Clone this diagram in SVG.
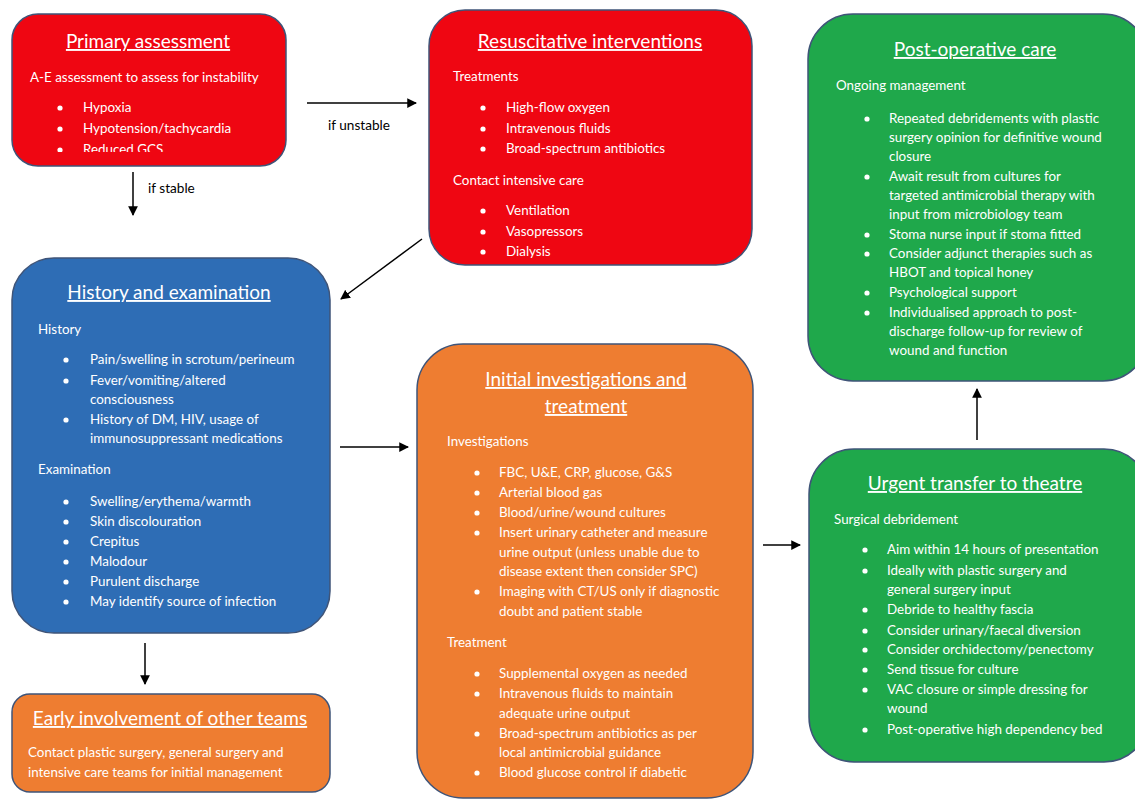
<svg xmlns="http://www.w3.org/2000/svg" width="1135" height="800" viewBox="0 0 1135 800">
<style>
.box{stroke:#3f5478;stroke-width:1.5}
.red{fill:#ef0612}.green{fill:#1fa84b}.orange{fill:#ee7d31}.blue{fill:#2e6db5}
text{font-family:Lato,"Liberation Sans",sans-serif;fill:#ffffff;font-size:13.4px}
.t{font-size:19px;text-anchor:middle;text-decoration:underline}
.lbl{fill:#000000;font-size:13.6px}
.dot{fill:#ffffff}
.conn line{stroke:#000000;stroke-width:1.5;marker-end:url(#ah)}
</style>
<defs>
<marker id="ah" viewBox="0 0 10 10" refX="9" refY="5" markerWidth="6.5" markerHeight="6.5" orient="auto" markerUnits="strokeWidth">
<path d="M0,0 L10,5 L0,10 z" fill="#000000"/>
</marker>
<clipPath id="clipP"><rect x="12" y="14" width="274" height="138"/></clipPath>
</defs>
<rect width="1135" height="800" fill="#ffffff"/>

<g id="primary">
<rect class="box red" x="12" y="14" width="274" height="152" rx="26"/>
<text class="t" x="148" y="48">Primary assessment</text>
<text x="30" y="82">A-E assessment to assess for instability</text>
<circle class="dot" cx="60" cy="108" r="2.6"/><text x="83" y="112">Hypoxia</text>
<circle class="dot" cx="60" cy="129" r="2.6"/><text x="83" y="133">Hypotension/tachycardia</text>
<g clip-path="url(#clipP)"><circle class="dot" cx="60" cy="150" r="2.6"/><text x="83" y="154">Reduced GCS</text></g>
</g>

<g id="resus">
<rect class="box red" x="429" y="10" width="323" height="255" rx="36"/>
<text class="t" x="590" y="48">Resuscitative interventions</text>
<text x="453" y="81">Treatments</text>
<circle class="dot" cx="483" cy="108" r="2.6"/><text x="506" y="112">High-flow oxygen</text>
<circle class="dot" cx="483" cy="129" r="2.6"/><text x="506" y="133">Intravenous fluids</text>
<circle class="dot" cx="483" cy="149" r="2.6"/><text x="506" y="153">Broad-spectrum antibiotics</text>
<text x="453" y="185">Contact intensive care</text>
<circle class="dot" cx="483" cy="211" r="2.6"/><text x="506" y="215">Ventilation</text>
<circle class="dot" cx="483" cy="232" r="2.6"/><text x="506" y="236">Vasopressors</text>
<circle class="dot" cx="483" cy="252" r="2.6"/><text x="506" y="256">Dialysis</text>
</g>

<g id="postop">
<rect class="box green" x="808" y="14" width="340" height="367" rx="45"/>
<text class="t" x="975" y="56">Post-operative care</text>
<text x="836" y="90">Ongoing management</text>
<circle class="dot" cx="867" cy="119" r="2.6"/><text x="889" y="123">Repeated debridements with plastic</text>
<text x="889" y="142">surgery opinion for definitive wound</text>
<text x="889" y="161">closure</text>
<circle class="dot" cx="867" cy="177" r="2.6"/><text x="889" y="181">Await result from cultures for</text>
<text x="889" y="200">targeted antimicrobial therapy with</text>
<text x="889" y="219">input from microbiology team</text>
<circle class="dot" cx="867" cy="235" r="2.6"/><text x="889" y="239">Stoma nurse input if stoma fitted</text>
<circle class="dot" cx="867" cy="254" r="2.6"/><text x="889" y="258">Consider adjunct therapies such as</text>
<text x="889" y="277">HBOT and topical honey</text>
<circle class="dot" cx="867" cy="293" r="2.6"/><text x="889" y="297">Psychological support</text>
<circle class="dot" cx="867" cy="313" r="2.6"/><text x="889" y="317">Individualised approach to post-</text>
<text x="889" y="336">discharge follow-up for review of</text>
<text x="889" y="355">wound and function</text>
</g>

<g id="history">
<rect class="box blue" x="12" y="258" width="318" height="375" rx="42"/>
<text class="t" x="169" y="299">History and examination</text>
<text x="38" y="334">History</text>
<circle class="dot" cx="66" cy="360" r="2.6"/><text x="90" y="364">Pain/swelling in scrotum/perineum</text>
<circle class="dot" cx="66" cy="381" r="2.6"/><text x="90" y="385">Fever/vomiting/altered</text>
<text x="90" y="404">consciousness</text>
<circle class="dot" cx="66" cy="420" r="2.6"/><text x="90" y="424">History of DM, HIV, usage of</text>
<text x="90" y="443">immunosuppressant medications</text>
<text x="38" y="474">Examination</text>
<circle class="dot" cx="66" cy="502" r="2.6"/><text x="90" y="506">Swelling/erythema/warmth</text>
<circle class="dot" cx="66" cy="522" r="2.6"/><text x="90" y="526">Skin discolouration</text>
<circle class="dot" cx="66" cy="542" r="2.6"/><text x="90" y="546">Crepitus</text>
<circle class="dot" cx="66" cy="562" r="2.6"/><text x="90" y="566">Malodour</text>
<circle class="dot" cx="66" cy="582" r="2.6"/><text x="90" y="586">Purulent discharge</text>
<circle class="dot" cx="66" cy="602" r="2.6"/><text x="90" y="606">May identify source of infection</text>
</g>

<g id="initial">
<rect class="box orange" x="417" y="344" width="336" height="454" rx="46"/>
<text class="t" x="586" y="386">Initial investigations and</text>
<text class="t" x="586" y="413">treatment</text>
<text x="447" y="446">Investigations</text>
<circle class="dot" cx="477" cy="473" r="2.6"/><text x="499" y="477">FBC, U&amp;E, CRP, glucose, G&amp;S</text>
<circle class="dot" cx="477" cy="493" r="2.6"/><text x="499" y="497">Arterial blood gas</text>
<circle class="dot" cx="477" cy="513" r="2.6"/><text x="499" y="517">Blood/urine/wound cultures</text>
<circle class="dot" cx="477" cy="533" r="2.6"/><text x="499" y="537">Insert urinary catheter and measure</text>
<text x="499" y="557">urine output (unless unable due to</text>
<text x="499" y="576">disease extent then consider SPC)</text>
<circle class="dot" cx="477" cy="592" r="2.6"/><text x="499" y="596">Imaging with CT/US only if diagnostic</text>
<text x="499" y="616">doubt and patient stable</text>
<text x="447" y="647">Treatment</text>
<circle class="dot" cx="477" cy="674" r="2.6"/><text x="499" y="678">Supplemental oxygen as needed</text>
<circle class="dot" cx="477" cy="694" r="2.6"/><text x="499" y="698">Intravenous fluids to maintain</text>
<text x="499" y="718">adequate urine output</text>
<circle class="dot" cx="477" cy="734" r="2.6"/><text x="499" y="738">Broad-spectrum antibiotics as per</text>
<text x="499" y="757">local antimicrobial guidance</text>
<circle class="dot" cx="477" cy="773" r="2.6"/><text x="499" y="777">Blood glucose control if diabetic</text>
</g>

<g id="urgent">
<rect class="box green" x="809" y="449" width="340" height="313" rx="45"/>
<text class="t" x="975" y="490">Urgent transfer to theatre</text>
<text x="834" y="524">Surgical debridement</text>
<circle class="dot" cx="865" cy="550" r="2.6"/><text x="887" y="554">Aim within 14 hours of presentation</text>
<circle class="dot" cx="865" cy="571" r="2.6"/><text x="887" y="575">Ideally with plastic surgery and</text>
<text x="887" y="594">general surgery input</text>
<circle class="dot" cx="865" cy="610" r="2.6"/><text x="887" y="614">Debride to healthy fascia</text>
<circle class="dot" cx="865" cy="631" r="2.6"/><text x="887" y="635">Consider urinary/faecal diversion</text>
<circle class="dot" cx="865" cy="650" r="2.6"/><text x="887" y="654">Consider orchidectomy/penectomy</text>
<circle class="dot" cx="865" cy="670" r="2.6"/><text x="887" y="674">Send tissue for culture</text>
<circle class="dot" cx="865" cy="690" r="2.6"/><text x="887" y="694">VAC closure or simple dressing for</text>
<text x="887" y="713">wound</text>
<circle class="dot" cx="865" cy="730" r="2.6"/><text x="887" y="734">Post-operative high dependency bed</text>
</g>

<g id="early">
<rect class="box orange" x="12" y="694" width="318" height="98" rx="18"/>
<text class="t" x="170" y="725">Early involvement of other teams</text>
<text x="28" y="757">Contact plastic surgery, general surgery and</text>
<text x="28" y="777">intensive care teams for initial management</text>
</g>

<g id="connectors" class="conn">
<line x1="307" y1="103" x2="416" y2="103"/>
<line x1="133" y1="172" x2="133" y2="215"/>
<line x1="422" y1="239" x2="341" y2="299"/>
<line x1="340" y1="447" x2="408" y2="447"/>
<line x1="145" y1="643" x2="145" y2="684"/>
<line x1="763" y1="545" x2="800" y2="545"/>
<line x1="977" y1="440" x2="977" y2="389"/>
<text class="lbl" x="328" y="130">if unstable</text>
<text class="lbl" x="148" y="193">if stable</text>
</g>
</svg>
